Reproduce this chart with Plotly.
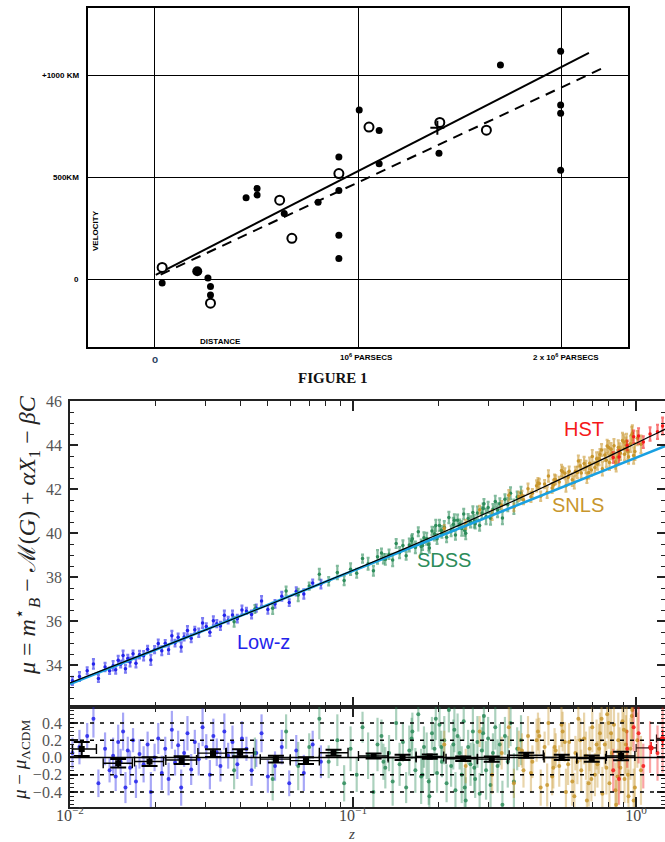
import plotly.graph_objects as go

W, H = 665, 842
def px(x): return x / W
def py(y): return 1 - y / H

# ---------------- Hubble 1929 (top) ----------------
hub_fill_x = [0.0375, 0.2625, 0.275, 0.275, 0.45, 0.504, 0.504, 0.6375, 0.804, 0.906, 0.906, 0.906, 0.906,
              1.006, 1.104, 1.104, 1.398, 1.70, 1.996, 1.996, 1.996, 1.996]
hub_fill_y = [-16, 8, -33, -75, 402, 447, 415, 324, 380, 602, 437, 218, 104,
              832, 732, 569, 620, 1052, 1120, 857, 816, 537]
hub_big_x = [0.21]
hub_big_y = [41]
hub_open_x = [0.0375, 0.275, 0.615, 0.675, 0.906, 1.054, 1.402, 1.631]
hub_open_y = [60, -115, 390, 203, 520, 748, 771, 733]
hub_cross_x = [1.39]
hub_cross_y = [745]
hub_solid_x = [0.006, 2.135]
hub_solid_y = [24, 1112]
hub_dash_x = [0.03, 2.2]
hub_dash_y = [25, 1036]

# ---------------- JLA Hubble diagram (bottom) ----------------
z_low = [0.0102, 0.0108, 0.0115, 0.0121, 0.0126, 0.0133, 0.0138, 0.0142, 0.0145, 0.0148,
         0.0151, 0.0154, 0.0157, 0.0160, 0.0163, 0.0167, 0.0171, 0.0176, 0.0182, 0.0188,
         0.0193, 0.0199, 0.0205, 0.0211, 0.0217, 0.0223, 0.0229, 0.0235, 0.0241, 0.0247,
         0.0253, 0.0260, 0.0268, 0.0276, 0.0285, 0.0294, 0.0303, 0.0312, 0.0321, 0.0330,
         0.0340, 0.0351, 0.0362, 0.0375, 0.0390, 0.0405, 0.0420, 0.0438, 0.0455, 0.0475,
         0.0500, 0.0530, 0.0560, 0.0595, 0.0630, 0.0670, 0.0720, 0.0770]
mu_low = [33.29, 33.49, 33.75, 34.06, 33.40, 33.92, 33.75, 33.98, 33.79, 34.23,
          34.05, 34.44, 33.84, 34.31, 34.15, 34.52, 34.09, 34.48, 34.43, 34.73,
          34.24, 34.71, 34.99, 34.66, 35.00, 34.71, 35.34, 35.01, 35.27, 34.83,
          35.29, 35.58, 35.23, 35.61, 35.48, 35.92, 35.76, 35.50, 36.02, 35.89,
          35.79, 36.27, 36.05, 36.29, 36.12, 36.51, 36.47, 36.31, 36.60, 36.92,
          36.54, 36.79, 37.14, 36.85, 37.36, 37.24, 37.74, 37.69]
res_low = [0.05, 0.12, 0.25, 0.45, -0.30, 0.10, -0.15, 0.02, -0.22, 0.18,
           -0.05, 0.30, -0.35, 0.08, -0.12, 0.20, -0.28, 0.04, -0.08, 0.15,
           -0.40, 0.00, 0.22, -0.18, 0.10, -0.25, 0.32, -0.06, 0.14, -0.35,
           0.05, 0.28, -0.14, 0.18, -0.02, 0.35, 0.12, -0.20, 0.25, 0.06,
           -0.10, 0.30, 0.02, 0.18, -0.08, 0.22, 0.10, -0.15, 0.05, 0.28,
           -0.22, -0.10, 0.12, -0.30, 0.08, -0.18, 0.15, -0.05]
err_low = [0.18, 0.20, 0.15, 0.22, 0.16, 0.19, 0.14, 0.21, 0.17, 0.20,
           0.15, 0.22, 0.18, 0.16, 0.20, 0.14, 0.19, 0.17, 0.21, 0.15,
           0.23, 0.16, 0.18, 0.20, 0.14, 0.19, 0.22, 0.15, 0.17, 0.21,
           0.16, 0.20, 0.18, 0.14, 0.19, 0.22, 0.15, 0.17, 0.20, 0.16,
           0.18, 0.21, 0.15, 0.19, 0.17, 0.20, 0.14, 0.18, 0.16, 0.22,
           0.19, 0.17, 0.20, 0.15, 0.18, 0.21, 0.16, 0.19]

z_sdss = [0.038, 0.045, 0.052, 0.058, 0.064, 0.070, 0.076, 0.082, 0.088, 0.093,
          0.098, 0.103, 0.108, 0.113, 0.118, 0.122, 0.126, 0.130, 0.134, 0.138,
          0.142, 0.146, 0.150, 0.154, 0.158, 0.162, 0.166, 0.170, 0.174, 0.178,
          0.182, 0.186, 0.190, 0.194, 0.198, 0.202, 0.206, 0.210, 0.214, 0.218,
          0.222, 0.226, 0.230, 0.234, 0.238, 0.242, 0.246, 0.250, 0.255, 0.260,
          0.265, 0.270, 0.275, 0.280, 0.285, 0.290, 0.295, 0.300, 0.306, 0.312,
          0.318, 0.324, 0.330, 0.337, 0.344, 0.352, 0.360, 0.370, 0.380, 0.392,
          0.128, 0.161, 0.185, 0.205, 0.228, 0.248, 0.268, 0.288, 0.196, 0.176]
mu_sdss = [35.98, 36.56, 36.59, 37.38, 37.20, 37.60, 38.14, 37.82, 38.22, 37.85,
           38.37, 38.18, 38.85, 38.62, 38.30, 38.93, 39.11, 38.81, 39.05, 38.79,
           39.54, 39.12, 39.45, 38.98, 39.47, 39.75, 39.36, 40.07, 39.40, 39.80,
           39.75, 39.33, 40.11, 39.98, 39.75, 40.36, 39.98, 40.28, 39.82, 40.72,
           40.11, 40.41, 39.92, 40.59, 40.43, 40.22, 40.88, 40.00, 40.67, 40.52,
           40.95, 40.44, 40.92, 40.36, 40.91, 41.35, 40.76, 41.18, 40.69, 41.10,
           41.45, 41.05, 41.35, 40.70, 41.55, 41.31, 41.82, 41.21, 41.65, 41.83,
           38.84, 39.66, 39.49, 40.14, 40.60, 40.13, 40.55, 41.13, 40.36, 39.45]
res_sdss = [-0.15, 0.05, -0.25, 0.30, -0.10, 0.12, 0.45, -0.05, 0.20, -0.30,
            0.10, -0.20, 0.35, 0.02, -0.40, 0.15, 0.25, -0.12, 0.05, -0.28,
            0.40, -0.08, 0.18, -0.35, 0.08, 0.30, -0.15, 0.50, -0.22, 0.12,
            0.02, -0.45, 0.28, 0.10, -0.18, 0.38, -0.05, 0.20, -0.30, 0.55,
            -0.10, 0.15, -0.38, 0.25, 0.05, -0.20, 0.42, -0.50, 0.12, -0.08,
            0.30, -0.25, 0.18, -0.42, 0.08, 0.48, -0.15, 0.22, -0.32, 0.05,
            0.35, -0.10, 0.15, -0.55, 0.25, -0.05, 0.40, -0.28, 0.10, 0.20,
            -0.05, 0.22, -0.28, 0.12, 0.32, -0.35, -0.12, 0.28, 0.45, -0.20]
err_sdss = [0.22, 0.18, 0.25, 0.20, 0.28, 0.16, 0.24, 0.19, 0.30, 0.21,
            0.26, 0.20, 0.18, 0.27, 0.22, 0.31, 0.19, 0.24, 0.21, 0.28,
            0.20, 0.25, 0.23, 0.18, 0.29, 0.22, 0.26, 0.20, 0.32, 0.24,
            0.27, 0.21, 0.19, 0.30, 0.23, 0.25, 0.18, 0.28, 0.22, 0.26,
            0.24, 0.29, 0.21, 0.26, 0.19, 0.33, 0.23, 0.27, 0.20, 0.25,
            0.28, 0.22, 0.30, 0.24, 0.27, 0.21, 0.34, 0.25, 0.29, 0.23,
            0.26, 0.31, 0.24, 0.28, 0.22, 0.30, 0.27, 0.33, 0.25, 0.29,
            0.21, 0.24, 0.27, 0.19, 0.26, 0.23, 0.28, 0.22, 0.25, 0.20]

z_snls = [0.210, 0.250, 0.280, 0.310, 0.335, 0.355, 0.370, 0.385, 0.400, 0.415,
          0.430, 0.445, 0.460, 0.475, 0.490, 0.505, 0.520, 0.535, 0.550, 0.565,
          0.580, 0.595, 0.610, 0.625, 0.640, 0.655, 0.670, 0.685, 0.700, 0.715,
          0.730, 0.745, 0.760, 0.775, 0.790, 0.805, 0.820, 0.835, 0.850, 0.865,
          0.880, 0.895, 0.910, 0.925, 0.940, 0.955, 0.970, 0.990, 1.010, 1.040,
          0.395, 0.425, 0.455, 0.485, 0.515, 0.545, 0.575, 0.605, 0.635, 0.665,
          0.695, 0.725, 0.755, 0.785, 0.815, 0.845, 0.875, 0.905, 0.935, 0.965,
          0.450, 0.510, 0.560, 0.620, 0.680, 0.740, 0.800, 0.860, 0.920, 0.980]
mu_snls = [40.22, 40.40, 41.07, 40.83, 41.28, 41.73, 41.18, 41.68, 41.53, 42.03,
           41.82, 42.16, 41.69, 42.24, 42.61, 42.06, 42.44, 42.33, 42.80, 42.17,
           42.82, 42.44, 42.83, 43.29, 42.75, 43.18, 42.52, 43.19, 43.50, 43.00,
           43.17, 43.59, 42.94, 43.56, 43.97, 43.22, 43.62, 43.99, 43.11, 43.91,
           43.64, 44.22, 43.60, 44.19, 43.48, 44.07, 44.57, 43.72, 44.33, 44.05,
           41.73, 41.66, 42.27, 41.86, 42.45, 42.86, 42.54, 42.31, 43.08, 43.02,
           42.88, 43.39, 43.79, 43.33, 43.83, 43.26, 43.79, 44.15, 43.72, 44.48,
           42.29, 42.19, 42.73, 42.77, 42.77, 43.39, 43.90, 43.47, 44.02, 43.54]
res_snls = [0.15, -0.10, 0.30, -0.20, 0.05, 0.35, -0.30, 0.10, -0.15, 0.25,
            -0.05, 0.20, -0.35, 0.12, 0.40, -0.22, 0.08, -0.10, 0.30, -0.40,
            0.18, -0.28, 0.05, 0.45, -0.15, 0.22, -0.50, 0.10, 0.35, -0.20,
            -0.08, 0.28, -0.42, 0.15, 0.50, -0.30, 0.05, 0.38, -0.55, 0.20,
            -0.12, 0.42, -0.25, 0.30, -0.45, 0.10, 0.55, -0.35, 0.20, -0.15,
            0.08, -0.18, 0.25, -0.32, 0.12, 0.38, -0.08, -0.45, 0.20, 0.02,
            -0.25, 0.15, 0.45, -0.12, 0.28, -0.38, 0.05, 0.32, -0.20, 0.48,
            0.30, -0.12, 0.18, -0.05, -0.30, 0.10, 0.40, -0.22, 0.15, -0.50]
err_snls = [0.16, 0.20, 0.18, 0.22, 0.19, 0.24, 0.17, 0.21, 0.20, 0.23,
            0.19, 0.25, 0.21, 0.18, 0.26, 0.22, 0.20, 0.24, 0.23, 0.27,
            0.22, 0.28, 0.20, 0.25, 0.24, 0.30, 0.23, 0.26, 0.29, 0.25,
            0.27, 0.24, 0.31, 0.26, 0.28, 0.33, 0.25, 0.30, 0.29, 0.32,
            0.30, 0.35, 0.28, 0.33, 0.31, 0.36, 0.34, 0.38, 0.32, 0.40,
            0.20, 0.23, 0.21, 0.25, 0.22, 0.26, 0.24, 0.27, 0.25, 0.28,
            0.26, 0.29, 0.27, 0.31, 0.28, 0.32, 0.30, 0.34, 0.33, 0.36,
            0.22, 0.24, 0.23, 0.26, 0.27, 0.29, 0.30, 0.32, 0.34, 0.37]

z_hst = [0.83, 0.87, 0.93, 0.98, 1.02, 1.06, 1.12, 1.19, 1.24]
mu_hst = [43.45, 43.47, 44.00, 44.39, 44.43, 44.15, 44.52, 44.62, 44.88]
res_hst = [-0.15, -0.25, 0.10, 0.35, 0.28, -0.10, 0.12, 0.05, 0.20]
err_hst = [0.25, 0.30, 0.22, 0.28, 0.35, 0.26, 0.30, 0.32, 0.38]

# model curves
z_lcdm = [0.01, 0.02, 0.05, 0.1, 0.15, 0.2, 0.25, 0.3, 0.35, 0.4, 0.5, 0.6, 0.7, 0.8, 0.9, 1.0, 1.1, 1.2, 1.3]
mu_lcdm = [33.20, 34.71, 36.73, 38.32, 39.27, 39.96, 40.50, 40.96, 41.34, 41.68, 42.26, 42.74,
           43.15, 43.50, 43.82, 44.10, 44.36, 44.59, 44.81]
z_cyan = [0.01, 0.03, 0.1, 0.3, 1.0, 1.3]
mu_cyan = [33.15, 35.61, 38.30, 40.76, 43.44, 44.03]

# binned residuals
z_bin = [0.0110, 0.0148, 0.0191, 0.0248, 0.0320, 0.0399, 0.0534, 0.0682, 0.0853,
         0.1182, 0.1496, 0.1866, 0.2450, 0.3090, 0.4090, 0.5460, 0.6970, 0.8850]
res_bin = [0.098, -0.067, -0.048, -0.030, 0.050, 0.055, -0.020, -0.037, 0.055,
           0.017, 0.000, 0.010, -0.015, -0.020, 0.025, 0.000, -0.014, 0.017]
zlo_bin = [0.0102, 0.0131, 0.0169, 0.0218, 0.0283, 0.0357, 0.0470, 0.0600, 0.0760,
           0.1045, 0.1330, 0.1670, 0.2130, 0.2750, 0.3560, 0.4730, 0.6170, 0.7850]
zhi_bin = [0.0124, 0.0166, 0.0214, 0.0280, 0.0355, 0.0445, 0.0600, 0.0760, 0.0960,
           0.1330, 0.1670, 0.2090, 0.2750, 0.3520, 0.4700, 0.6170, 0.7800, 0.9900]
err_bin = [0.08, 0.05, 0.05, 0.045, 0.045, 0.04, 0.04, 0.04, 0.035,
           0.03, 0.03, 0.025, 0.025, 0.03, 0.03, 0.03, 0.035, 0.05]
z_bin_hst = [1.13, 1.24]
res_bin_hst = [0.11, 0.22]
zlo_bin_hst = [1.00, 1.18]
zhi_bin_hst = [1.18, 1.30]
err_bin_hst = [0.07, 0.10]

for a, b in [(z_low, mu_low), (z_low, res_low), (z_low, err_low), (z_sdss, mu_sdss), (z_sdss, res_sdss),
             (z_sdss, err_sdss), (z_snls, mu_snls), (z_snls, res_snls), (z_snls, err_snls),
             (z_bin, res_bin), (z_bin, zlo_bin), (z_bin, zhi_bin), (z_bin, err_bin)]:
    assert len(a) == len(b), (len(a), len(b))

BLUE = 'rgb(35,35,235)'
GREEN = 'rgb(45,140,90)'
TAN = 'rgb(200,150,45)'
RED = 'rgb(245,25,25)'
def rgba(c, a):
    return c.replace('rgb(', 'rgba(').replace(')', ',%s)' % a)

fig = go.Figure()

# --- Hubble traces
fig.add_trace(go.Scatter(x=hub_solid_x, y=hub_solid_y, mode='lines', line=dict(color='black', width=2),
                         xaxis='x', yaxis='y', showlegend=False))
fig.add_trace(go.Scatter(x=hub_dash_x, y=hub_dash_y, mode='lines', line=dict(color='black', width=2, dash='10px,7px'),
                         xaxis='x', yaxis='y', showlegend=False))
fig.add_trace(go.Scatter(x=hub_fill_x, y=hub_fill_y, mode='markers', marker=dict(color='black', size=7),
                         xaxis='x', yaxis='y', showlegend=False))
fig.add_trace(go.Scatter(x=hub_big_x, y=hub_big_y, mode='markers', marker=dict(color='black', size=10),
                         xaxis='x', yaxis='y', showlegend=False))
fig.add_trace(go.Scatter(x=hub_open_x, y=hub_open_y, mode='markers',
                         marker=dict(color='white', size=9, line=dict(color='black', width=2)),
                         xaxis='x', yaxis='y', showlegend=False))
fig.add_trace(go.Scatter(x=hub_cross_x, y=hub_cross_y, mode='markers',
                         marker=dict(symbol='cross-thin', size=10, line=dict(color='black', width=2)),
                         xaxis='x', yaxis='y', showlegend=False))

# --- JLA main panel and residuals
surveys = [(z_low, mu_low, res_low, err_low, BLUE),
           (z_sdss, mu_sdss, res_sdss, err_sdss, GREEN),
           (z_snls, mu_snls, res_snls, err_snls, TAN),
           (z_hst, mu_hst, res_hst, err_hst, RED)]
for zz, mu, rr, ee, col in surveys:
    fig.add_trace(go.Scatter(x=zz, y=mu, mode='markers', xaxis='x2', yaxis='y2', showlegend=False,
                             marker=dict(color=col, size=3.5),
                             error_y=dict(type='data', array=ee, color=rgba(col, 0.6), thickness=2.2, width=1.5)))
    fig.add_trace(go.Scatter(x=zz, y=rr, mode='markers', xaxis='x3', yaxis='y3', showlegend=False,
                             marker=dict(color=rgba(col, 0.85), size=4),
                             error_y=dict(type='data', array=ee, color=rgba(col, 0.4), thickness=2.2, width=0)))

fig.add_trace(go.Scatter(x=z_cyan, y=mu_cyan, mode='lines', xaxis='x2', yaxis='y2', showlegend=False,
                         line=dict(color='rgb(25,160,225)', width=2.6)))
fig.add_trace(go.Scatter(x=z_lcdm, y=mu_lcdm, mode='lines', xaxis='x2', yaxis='y2', showlegend=False,
                         line=dict(color='black', width=1.2, shape='spline')))

def minus_plus(c, lo, hi):
    return [ci - l for ci, l in zip(c, lo)], [h - ci for ci, h in zip(c, hi)]

m_, p_ = minus_plus(z_bin, zlo_bin, zhi_bin)
fig.add_trace(go.Scatter(x=z_bin, y=res_bin, mode='markers', xaxis='x3', yaxis='y3', showlegend=False,
                         marker=dict(color='black', size=6, symbol='square'),
                         error_x=dict(type='data', symmetric=False, array=p_, arrayminus=m_, color='black',
                                      thickness=1.4, width=5),
                         error_y=dict(type='data', array=err_bin, color='black', thickness=2, width=8)))
m2, p2 = minus_plus(z_bin_hst, zlo_bin_hst, zhi_bin_hst)
fig.add_trace(go.Scatter(x=z_bin_hst, y=res_bin_hst, mode='markers', xaxis='x3', yaxis='y3', showlegend=False,
                         marker=dict(color=RED, size=5),
                         error_x=dict(type='data', symmetric=False, array=p2, arrayminus=m2, color='rgb(60,20,20)',
                                      thickness=1.2, width=4),
                         error_y=dict(type='data', array=err_bin_hst, color=RED, thickness=1.5, width=0)))

# --- axes
hub_ax = dict(showgrid=True, gridcolor='black', gridwidth=1.4, showticklabels=False, ticks='',
              zeroline=False, showline=True, mirror=True, linecolor='black', linewidth=2, automargin=False)
minor_x = [0.02, 0.03, 0.04, 0.05, 0.06, 0.07, 0.08, 0.09, 0.2, 0.3, 0.4, 0.5, 0.6, 0.7, 0.8, 0.9]
axcol = '#222'
serif = 'Liberation Serif'
logx = dict(type='log', range=[-2, 0.102], tickvals=[0.01, 0.1, 1], ticks='inside', ticklen=10, tickwidth=1.6,
            tickcolor=axcol, minor=dict(ticks='inside', ticklen=5, tickwidth=1.3, tickcolor=axcol, tickvals=minor_x),
            showline=True, mirror='ticks', linecolor=axcol, linewidth=1.8, showgrid=False, zeroline=False,
            automargin=False)

fig.update_layout(
    width=W, height=H, margin=dict(l=0, r=0, t=0, b=0, autoexpand=False), paper_bgcolor='white', plot_bgcolor='white',
    xaxis=dict(domain=[px(88), px(628)], range=[-0.327, 2.327], anchor='y', tickvals=[0, 1, 2], **hub_ax),
    yaxis=dict(domain=[py(347), py(8)], range=[-330, 1332], anchor='x', tickvals=[0, 500, 1000], **hub_ax),
    xaxis2=dict(domain=[px(70), 1.0], anchor='y2', showticklabels=False, **logx),
    yaxis2=dict(domain=[py(707), py(401)], range=[32.1, 46.02], anchor='x2',
                tickvals=[34, 36, 38, 40, 42, 44, 46], ticks='inside', ticklen=8, tickwidth=1.6, tickcolor=axcol,
                minor=dict(ticks='inside', ticklen=4, tickwidth=1.2, tickcolor=axcol, dtick=0.5),
                showline=True, mirror='ticks', linecolor=axcol, linewidth=1.8, showgrid=False, zeroline=False,
                automargin=False, ticklabelstandoff=3, tickfont=dict(family=serif, size=16, color='#555')),
    xaxis3=dict(domain=[px(70), 1.0], anchor='y3', ticktext=['10<sup>−2</sup>', '10<sup>−1</sup>', '10<sup>0</sup>'],
                ticklabelstandoff=-7, tickfont=dict(family=serif, size=16, color='#444'), **logx),
    yaxis3=dict(domain=[py(807), py(707)], range=[-0.575, 0.585], anchor='x3',
                tickvals=[-0.4, -0.2, 0, 0.2, 0.4], ticktext=['−0.4', '−0.2', '0.0', '0.2', '0.4'],
                ticks='inside', ticklen=8, tickwidth=1.6, tickcolor=axcol,
                minor=dict(ticks='inside', ticklen=4, tickwidth=1.2, tickcolor=axcol, dtick=0.05),
                showline=True, mirror='ticks', linecolor=axcol, linewidth=1.8, showgrid=False, zeroline=False,
                automargin=False, ticklabelstandoff=3, tickfont=dict(family=serif, size=16, color='#555')),
)

shapes = []
for v in [-0.4, -0.2, 0.2, 0.4]:
    shapes.append(dict(type='line', xref='x3 domain', yref='y3', x0=0, x1=1, y0=v, y1=v,
                       line=dict(color='black', width=1.5, dash='4px,6px')))
shapes.append(dict(type='line', xref='x3 domain', yref='y3', x0=0, x1=1, y0=0, y1=0,
                   line=dict(color='black', width=1.4)))
fig.update_layout(shapes=shapes)

hf = dict(family='Liberation Sans', size=8, color='black')
ann = [
    dict(x=px(81), y=1000, xref='paper', yref='y', text='<b>+1000 KM</b>', xanchor='right', font=hf),
    dict(x=px(81), y=500, xref='paper', yref='y', text='<b>500KM</b>', xanchor='right', font=hf),
    dict(x=px(81), y=0, xref='paper', yref='y', text='<b>0</b>', xanchor='right', font=hf),
    dict(x=0, y=py(359), xref='x', yref='paper', text='<b>o</b>', font=dict(family='Liberation Sans', size=10)),
    dict(x=1.04, y=py(357), xref='x', yref='paper', text='<b>10<sup>6</sup> PARSECS</b>', font=hf),
    dict(x=2.02, y=py(357), xref='x', yref='paper', text='<b>2 x 10<sup>6</sup> PARSECS</b>', font=hf),
    dict(x=px(95), y=py(231), xref='paper', yref='paper', text='<b>VELOCITY</b>', textangle=-90, font=hf),
    dict(x=px(220), y=py(341), xref='paper', yref='paper', text='<b>DISTANCE</b>', font=hf),
    dict(x=px(333), y=py(378), xref='paper', yref='paper', text='<b>FIGURE 1</b>',
         font=dict(family='Liberation Serif', size=15, color='#111')),
    dict(x=px(584), y=py(429), xref='paper', yref='paper', text='HST', font=dict(family='Liberation Sans', size=20, color=RED)),
    dict(x=px(578), y=py(505), xref='paper', yref='paper', text='SNLS', font=dict(family='Liberation Sans', size=20, color=TAN)),
    dict(x=px(444), y=py(560), xref='paper', yref='paper', text='SDSS', font=dict(family='Liberation Sans', size=20, color=GREEN)),
    dict(x=px(263), y=py(642), xref='paper', yref='paper', text='Low-z', font=dict(family='Liberation Sans', size=20, color=BLUE)),
    dict(x=px(27), y=py(535), xref='paper', yref='paper', textangle=-90,
         text='<i>μ</i> = <i>m</i><sup>⋆</sup><sub><i>B</i></sub> − ℳ(<i>G</i>) + <i>αX</i><sub>1</sub> − <i>βC</i>',
         font=dict(family=serif, size=24, color='#222')),
    dict(x=px(21), y=py(760), xref='paper', yref='paper', textangle=-90,
         text='<i>μ</i> − <i>μ</i><sub>ΛCDM</sub>', font=dict(family=serif, size=19, color='#222')),
    dict(x=px(352), y=py(834), xref='paper', yref='paper', text='<i>z</i>', font=dict(family=serif, size=15, color='#444')),
]
for a in ann:
    a['showarrow'] = False
    a.setdefault('xanchor', 'center')
    a.setdefault('yanchor', 'middle')
fig.update_layout(annotations=ann)

fig.write_html('out.html')
